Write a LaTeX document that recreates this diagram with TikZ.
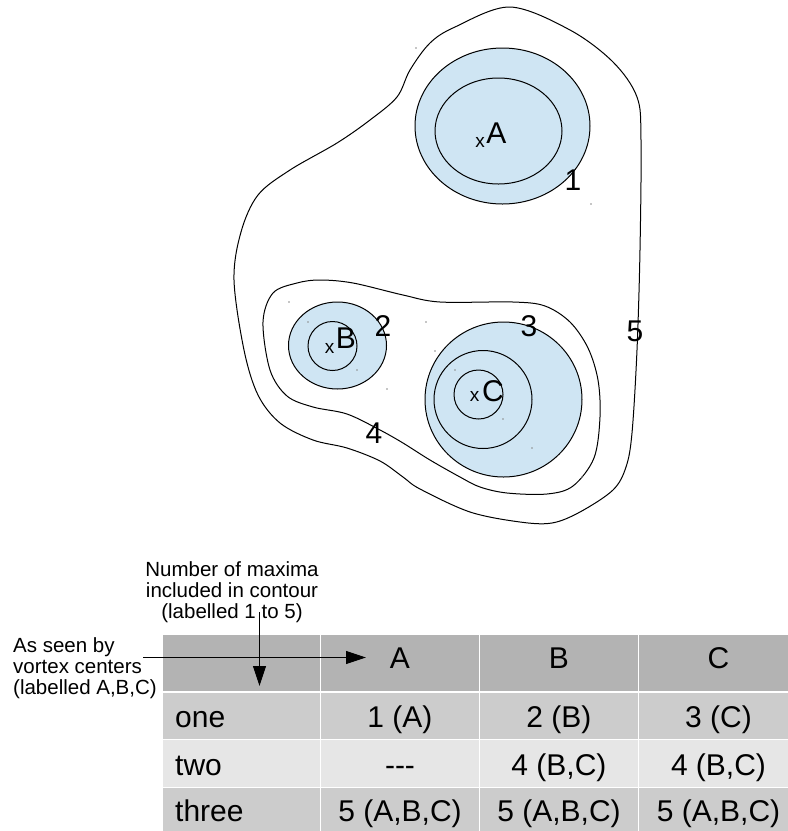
\documentclass[tikz,border=0pt]{standalone}
\usepackage{fontspec}
\setmainfont{Liberation Sans}
\usetikzlibrary{arrows.meta}

\definecolor{poolblue}{HTML}{CFE5F3}
\definecolor{hdrgray}{HTML}{B3B3B3}
\definecolor{rowgray}{HTML}{CCCCCC}
\definecolor{rowlight}{HTML}{E6E6E6}
\definecolor{handlegray}{HTML}{8C8C8C}

\begin{document}
\begin{tikzpicture}[x=1pt,y=-1pt,
  contour/.style={draw=black,line width=1pt},
  core/.style={draw=black,line width=1pt,fill=poolblue},
  biglbl/.style={inner sep=0pt,anchor=base,font=\fontsize{30}{36}\selectfont},
  centremark/.style={inner sep=0pt,anchor=base,font=\fontsize{19}{22}\selectfont},
  note/.style={inner sep=0pt,font=\fontsize{20.5}{24}\selectfont},
  cell/.style={draw=white,line width=1.5pt},
  celltext/.style={inner sep=0pt,anchor=base,font=\fontsize{30}{36}\selectfont},
  rowtext/.style={inner sep=0pt,anchor=base west,font=\fontsize{30}{36}\selectfont},
  pointer/.style={draw=black,line width=1pt,-{Triangle[length=20pt,width=13pt]}},
  handle/.style={fill=handlegray,draw=none}
]
\useasboundingbox (0,0) rectangle (788,831);
\clip (0,0) rectangle (788,831);

% ---- contour 5: encloses all three maxima
\draw[contour] plot[smooth cycle, tension=0.55] coordinates {
  (510,7) (570,30) (613,62) (637,97) (641,140) (640,250) (637,350)
  (632,433) (626,467) (613,490) (580,512) (552,523) (520,522) (470,512)
  (420,489) (403,477) (380,461) (347,448) (313,440) (280,423) (258,395)
  (244,350) (234,280) (241,232) (258,195) (290,170) (337,143) (370,120)
  (397,97) (410,70) (430,43) (455,27)};

% ---- contour 4: encloses B and C
\draw[contour] plot[smooth cycle, tension=0.55] coordinates {
  (263,322) (273,293) (297,283) (320,280) (353,283) (403,295) (440,302)
  (513,302) (545,306) (570,322) (588,348) (598,380) (600,417) (594,458)
  (573,486) (547,494) (507,493) (480,487) (460,477) (430,460) (403,443)
  (380,430) (347,414) (313,407) (287,396) (270,370)};

% ---- maximum A
\draw[core] (502.5,126) ellipse [x radius=87.5pt, y radius=78pt];
\draw[core] (498.5,131) ellipse [x radius=63.5pt, y radius=53pt];

% ---- maximum B
\draw[core] (337.5,345.5) ellipse [x radius=49pt, y radius=43.5pt];
\draw[core] (332.5,346) circle [radius=24.5pt];

% ---- maximum C
\draw[core] (503.5,399.5) ellipse [x radius=78.5pt, y radius=77.5pt];
\draw[core] (483,399.5) circle [radius=49pt];
\draw[core] (478.5,394.5) circle [radius=24.5pt];

% ---- small handle dots at the shape corners
\foreach \p in {(416,48),(591,204),(289,302),(387,389),(308,322),(357,370),
                (426,322),(582,477),(435,351),(532,448),(455,370),(503,419)}
  \fill[handle] \p circle [radius=0.8pt];

% ---- vortex centres
\node[centremark] (xa) at (480,147) {x};
\node[biglbl] (ca) at (496.3,143.3) {A};
\node[centremark] (xb) at (329.5,353) {x};
\node[biglbl] (cb) at (346,348.3) {B};
\node[centremark] (xc) at (474.7,401.7) {x};
\node[biglbl] (cc) at (493,401.7) {C};

% ---- contour numbers
\node[biglbl] (n1) at (573,190) {1};
\node[biglbl] (n2) at (383,336) {2};
\node[biglbl] (n3) at (529,336) {3};
\node[biglbl] (n4) at (374,443) {4};
\node[biglbl] (n5) at (635,341) {5};

% ---- table cells
\foreach \xa/\xb in {162.7/320.3,320.3/479.3,479.3/638.7,638.7/798}{
  \path[cell,fill=hdrgray]  (\xa,634.3) rectangle (\xb,692);
  \path[cell,fill=rowgray]  (\xa,692)   rectangle (\xb,739.5);
  \path[cell,fill=rowlight] (\xa,739.5) rectangle (\xb,787.5);
  \path[cell,fill=rowgray]  (\xa,787.5) rectangle (\xb,840);
}

% header row
\node[celltext] (ha) at (400,668) {A};
\node[celltext] (hb) at (559,668) {B};
\node[celltext] (hc) at (718.5,668) {C};
% row one
\node[rowtext] (r1) at (175,727) {one};
\node[celltext] (r1a) at (400,727) {1 (A)};
\node[celltext] (r1b) at (559,727) {2 (B)};
\node[celltext] (r1c) at (718.5,727) {3 (C)};
% row two
\node[rowtext] (r2) at (175,775) {two};
\node[celltext] (r2a) at (400,775) {-{}-{}-};
\node[celltext] (r2b) at (559,775) {4 (B,C)};
\node[celltext] (r2c) at (718.5,775) {4 (B,C)};
% row three
\node[rowtext] (r3) at (175,821) {three};
\node[celltext] (r3a) at (400,821) {5 (A,B,C)};
\node[celltext] (r3b) at (559,821) {5 (A,B,C)};
\node[celltext] (r3c) at (718.5,821) {5 (A,B,C)};

% ---- axis notes
\node[note,anchor=base] (up1) at (232,576) {Number of maxima};
\node[note,anchor=base] (up2) at (232,597) {included in contour};
\node[note,anchor=base] (up3) at (232,618) {(labelled 1 to 5)};

\node[note,anchor=base west] (lf1) at (13,652) {As seen by};
\node[note,anchor=base west] (lf2) at (13,673) {vortex centers};
\node[note,anchor=base west] (lf3) at (13,694) {(labelled A,B,C)};

% ---- pointers into the table
\coordinate (downfrom) at (259.5,612);
\coordinate (downto) at (259.5,686);
\coordinate (acrossfrom) at (143,657.5);
\coordinate (acrossto) at (366,657.5);
\draw[pointer] (downfrom) -- (downto);
\draw[pointer] (acrossfrom) -- (acrossto);
\end{tikzpicture}
\end{document}
